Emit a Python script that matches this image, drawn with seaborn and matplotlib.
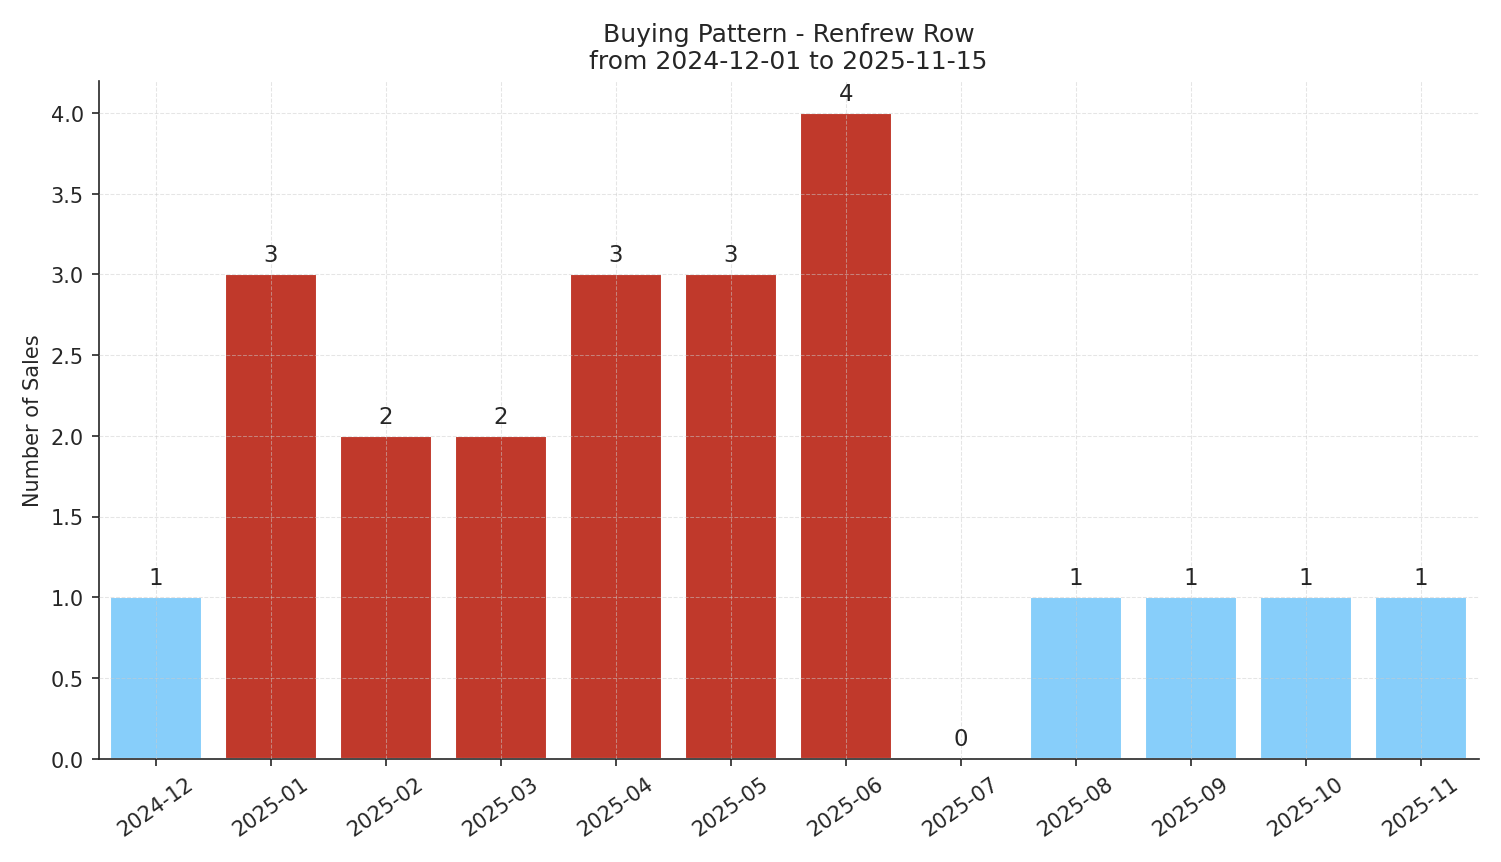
import pandas as pd
import matplotlib
matplotlib.use("Agg")
import matplotlib.pyplot as plt
import seaborn as sns

months = ["2024-12", "2025-01", "2025-02", "2025-03", "2025-04", "2025-05",
          "2025-06", "2025-07", "2025-08", "2025-09", "2025-10", "2025-11"]
sales = [1, 3, 2, 2, 3, 3, 4, 0, 1, 1, 1, 1]

high_color = "#C0392B"
low_color = "#87CEFA"

df = pd.DataFrame({"month": months, "sales": sales})
df["level"] = ["high" if s >= 2 else "low" for s in sales]

sns.set_style("ticks")
plt.rcParams["font.family"] = ["DejaVu Sans"]

fig, ax = plt.subplots(figsize=(10.007, 5.753), dpi=150)
sns.barplot(data=df, x="month", y="sales", hue="level", order=months,
            palette={"high": high_color, "low": low_color}, dodge=False,
            width=0.8, saturation=1, legend=False, ax=ax, zorder=2)

for i, s in enumerate(sales):
    ax.text(i, s + 0.05, str(s), ha="center", va="bottom", fontsize=11)

ax.set_ylim(0, 4.2)
ax.set_title("Buying Pattern - Renfrew Row\nfrom 2024-12-01 to 2025-11-15", fontsize=12)
ax.set_xlabel("")
ax.set_ylabel("Number of Sales", fontsize=10)
ax.grid(True, linestyle="--", linewidth=0.5, alpha=0.5, zorder=0)
ax.set_axisbelow(False)
plt.setp(ax.get_xticklabels(), rotation=35)
sns.despine(ax=ax)
plt.tight_layout()
plt.savefig("out.png", dpi=150)
